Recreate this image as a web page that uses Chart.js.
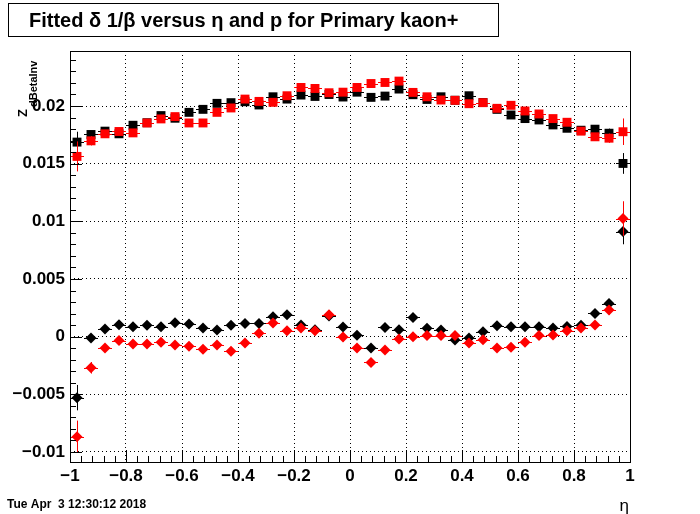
<!DOCTYPE html>
<html>
<head>
<meta charset="utf-8">
<script src="https://cdn.jsdelivr.net/npm/chart.js@4.4.0/dist/chart.umd.min.js"></script>
<style>
  body { margin: 0; background: #fff; }
  canvas { display: block; }
</style>
</head>
<body>
<canvas id="fitChart" width="700" height="514"></canvas>
<script>
// eta bin centres (40 bins of 0.05)
const etaBins = [-0.975, -0.925, -0.875, -0.825, -0.775, -0.725, -0.675, -0.625, -0.575, -0.525,
  -0.475, -0.425, -0.375, -0.325, -0.275, -0.225, -0.175, -0.125, -0.075, -0.025,
  0.025, 0.075, 0.125, 0.175, 0.225, 0.275, 0.325, 0.375, 0.425, 0.475,
  0.525, 0.575, 0.625, 0.675, 0.725, 0.775, 0.825, 0.875, 0.925, 0.975];
const binHalfWidth = 0.025;

// sigma (squares) and mean (diamonds), black and red
const blackSigma = [0.01687, 0.01753, 0.01782, 0.01759, 0.01833, 0.01855, 0.01917, 0.01894, 0.01945, 0.01971,
  0.02023, 0.02029, 0.02037, 0.02009, 0.02080, 0.02060, 0.02095, 0.02083, 0.02100, 0.02078,
  0.02120, 0.02075, 0.02086, 0.02147, 0.02098, 0.02057, 0.02080, 0.02050, 0.02089, 0.02030,
  0.01971, 0.01922, 0.01891, 0.01879, 0.01836, 0.01807, 0.01790, 0.01799, 0.01764, 0.01502];
const redSigma = [0.01563, 0.01698, 0.01759, 0.01779, 0.01767, 0.01853, 0.01888, 0.01908, 0.01853, 0.01853,
  0.01945, 0.01983, 0.02060, 0.02040, 0.02032, 0.02089, 0.02161, 0.02152, 0.02115, 0.02120,
  0.02161, 0.02195, 0.02204, 0.02216, 0.02118, 0.02080, 0.02052, 0.02049, 0.02020, 0.02029,
  0.01980, 0.02006, 0.01957, 0.01931, 0.01891, 0.01859, 0.01782, 0.01733, 0.01721, 0.01777];
const blackMean = [-0.00529, -0.00011, 0.00066, 0.00103, 0.00086, 0.00098, 0.00086, 0.00121, 0.00109, 0.00075,
  0.00057, 0.00098, 0.00115, 0.00115, 0.00172, 0.00190, 0.00101, 0.00060, 0.00180, 0.00083,
  0.00012, -0.00098, 0.00080, 0.00060, 0.00167, 0.00072, 0.00057, -0.00029, -0.00011, 0.00043,
  0.00095, 0.00086, 0.00086, 0.00086, 0.00075, 0.00089, 0.00098, 0.00201, 0.00287, 0.00911];
const redMean = [-0.00868, -0.00270, -0.00098, -0.00034, -0.00063, -0.00063, -0.00049, -0.00072, -0.00083, -0.00109,
  -0.00072, -0.00126, -0.00055, 0.00029, 0.00118, 0.00052, 0.00075, 0.00052, 0.00190, -0.00003,
  -0.00098, -0.00224, -0.00115, -0.00020, 0.00000, 0.00009, 0.00009, 0.00009, -0.00055, -0.00026,
  -0.00098, -0.00092, -0.00049, 0.00009, 0.00014, 0.00052, 0.00075, 0.00101, 0.00230, 0.01024];

// vertical errors
const blackSigmaErr = [0.0009, 0.0003, 0.0003, 0.0003, 0.0003, 0.0003, 0.0003, 0.0003, 0.0003, 0.0003,
  0.0003, 0.0003, 0.0003, 0.0003, 0.0003, 0.0003, 0.0003, 0.0003, 0.0003, 0.0003,
  0.0003, 0.0003, 0.0003, 0.0003, 0.0003, 0.0003, 0.0003, 0.0003, 0.0003, 0.0003,
  0.0003, 0.0003, 0.0003, 0.0003, 0.0003, 0.0003, 0.0003, 0.0003, 0.0004, 0.0009];
const redSigmaErr = [0.0013, 0.0004, 0.0003, 0.0003, 0.0003, 0.0003, 0.0003, 0.0003, 0.0003, 0.0003,
  0.0003, 0.0003, 0.0003, 0.0003, 0.0003, 0.0003, 0.0003, 0.0003, 0.0003, 0.0003,
  0.0003, 0.0003, 0.0003, 0.0003, 0.0003, 0.0003, 0.0003, 0.0003, 0.0003, 0.0003,
  0.0003, 0.0003, 0.0003, 0.0003, 0.0003, 0.0003, 0.0003, 0.0003, 0.0004, 0.00115];
const blackMeanErr = [0.0011, 0.0003, 0.0003, 0.0003, 0.0003, 0.0003, 0.0003, 0.0003, 0.0003, 0.0003,
  0.0003, 0.0003, 0.0003, 0.0003, 0.0003, 0.0003, 0.0003, 0.0003, 0.0003, 0.0003,
  0.0003, 0.0003, 0.0003, 0.0003, 0.0003, 0.0003, 0.0003, 0.0003, 0.0003, 0.0003,
  0.0003, 0.0003, 0.0003, 0.0003, 0.0003, 0.0003, 0.0003, 0.0003, 0.0004, 0.0011];
const redMeanErr = [0.0014, 0.0005, 0.0003, 0.0003, 0.0003, 0.0003, 0.0003, 0.0003, 0.0003, 0.0003,
  0.0003, 0.0003, 0.0003, 0.0003, 0.0003, 0.0003, 0.0003, 0.0004, 0.0004, 0.0004,
  0.0003, 0.0003, 0.0003, 0.0003, 0.0003, 0.0003, 0.0003, 0.0003, 0.0003, 0.0003,
  0.0003, 0.0003, 0.0003, 0.0003, 0.0003, 0.0003, 0.0003, 0.0003, 0.0004, 0.0015];

// axis ticks
const xTicks = [-1, -0.8, -0.6, -0.4, -0.2, 0, 0.2, 0.4, 0.6, 0.8, 1];
const xTickLabels = ['\u22121', '\u22120.8', '\u22120.6', '\u22120.4', '\u22120.2', '0', '0.2', '0.4', '0.6', '0.8', '1'];
const yTicks = [-0.01, -0.005, 0, 0.005, 0.01, 0.015, 0.02];
const yTickLabels = ['\u22120.01', '\u22120.005', '0', '0.005', '0.01', '0.015', '0.02'];

const titleText = 'Fitted \u03b4 1/\u03b2 versus \u03b7 and p for Primary kaon+';
const dateText = 'Tue Apr  3 12:30:12 2018';
const FONT = '"Liberation Sans", Arial, Helvetica, sans-serif';

function points(vals) {
  return etaBins.map((x, i) => ({ x: x, y: vals[i] }));
}

// error bars drawn just before each dataset's markers
const errorBars = {
  id: 'errorBars',
  beforeDatasetDraw(chart, args) {
    const ds = chart.data.datasets[args.index];
    const xs = chart.scales.x, ys = chart.scales.y;
    const ctx = chart.ctx;
    ctx.save();
    ctx.strokeStyle = ds.borderColor;
    ctx.lineWidth = 1;
    ds.data.forEach((p, i) => {
      const px = Math.round(xs.getPixelForValue(p.x)) + 0.5;
      const py = Math.round(ys.getPixelForValue(p.y)) + 0.5;
      const x1 = xs.getPixelForValue(p.x - binHalfWidth);
      const x2 = xs.getPixelForValue(p.x + binHalfWidth);
      const y1 = ys.getPixelForValue(p.y - ds.errors[i]);
      const y2 = ys.getPixelForValue(p.y + ds.errors[i]);
      ctx.beginPath();
      ctx.moveTo(x1, py); ctx.lineTo(x2, py);
      ctx.moveTo(px, y1); ctx.lineTo(px, y2);
      ctx.stroke();
    });
    ctx.restore();
  }
};

// ROOT style frame, inward ticks and the texts round the pad
const rootPad = {
  id: 'rootPad',
  beforeDraw(chart) {
    const ctx = chart.ctx;
    ctx.save();
    ctx.fillStyle = '#fff';
    ctx.fillRect(0, 0, chart.width, chart.height);
    ctx.restore();
  },
  afterDraw(chart) {
    const ctx = chart.ctx;
    const a = chart.chartArea;
    const xs = chart.scales.x, ys = chart.scales.y;
    ctx.save();
    ctx.strokeStyle = '#000';
    ctx.lineWidth = 1;
    ctx.strokeRect(a.left + 0.5, a.top + 0.5, a.right - a.left, a.bottom - a.top);

    ctx.beginPath();
    // y ticks
    for (let k = -10; k <= 24; k++) {
      const v = k / 1000;
      const py = Math.round(ys.getPixelForValue(v)) + 0.5;
      if (py < a.top || py > a.bottom) continue;
      const len = (k % 5 === 0) ? 12 : 6;
      ctx.moveTo(a.left, py); ctx.lineTo(a.left + len, py);
    }
    // x ticks
    for (let k = -25; k <= 25; k++) {
      const v = k * 0.04;
      const px = Math.round(xs.getPixelForValue(v)) + 0.5;
      const len = (k % 5 === 0) ? 12 : 6;
      ctx.moveTo(px, a.bottom); ctx.lineTo(px, a.bottom - len);
    }
    ctx.stroke();

    // title box
    ctx.fillStyle = '#fff';
    ctx.fillRect(8, 3, 490, 33);
    ctx.strokeRect(8.5, 3.5, 490, 33);
    ctx.fillStyle = '#000';
    ctx.font = 'bold 20px ' + FONT;
    ctx.textBaseline = 'alphabetic';
    ctx.textAlign = 'left';
    ctx.fillText(titleText, 29, 27);

    // y axis title Z_dBetaInv
    ctx.save();
    ctx.translate(27, 117);
    ctx.rotate(-Math.PI / 2);
    ctx.font = 'bold 13px ' + FONT;
    ctx.fillText('Z', 0, 0);
    ctx.restore();
    ctx.save();
    ctx.translate(37, 107);
    ctx.rotate(-Math.PI / 2);
    ctx.font = 'bold 11px ' + FONT;
    ctx.fillText('dBetaInv', 0, 0);
    ctx.restore();

    // x axis title
    ctx.font = '17px ' + FONT;
    ctx.textAlign = 'right';
    ctx.fillText('\u03b7', 629, 511);

    // date stamp
    ctx.font = 'bold 12px ' + FONT;
    ctx.textAlign = 'left';
    ctx.fillText(dateText, 7, 508);
    ctx.restore();
  }
};

const gridOpts = { color: '#000', lineWidth: 1, drawTicks: false };
const borderOpts = { display: false, dash: [1, 3] };
const tickFont = { family: FONT, size: 17, weight: 'bold' };

new Chart(document.getElementById('fitChart'), {
  type: 'scatter',
  data: {
    datasets: [
      { label: 'sigma red', data: points(redSigma), errors: redSigmaErr,
        backgroundColor: '#ff0000', borderColor: '#ff0000', pointStyle: 'rect', pointRadius: 6.3, borderWidth: 0 },
      { label: 'sigma black', data: points(blackSigma), errors: blackSigmaErr,
        backgroundColor: '#000000', borderColor: '#000000', pointStyle: 'rect', pointRadius: 6.3, borderWidth: 0 },
      { label: 'mean red', data: points(redMean), errors: redMeanErr,
        backgroundColor: '#ff0000', borderColor: '#ff0000', pointStyle: 'rectRot', pointRadius: 5.5, borderWidth: 0 },
      { label: 'mean black', data: points(blackMean), errors: blackMeanErr,
        backgroundColor: '#000000', borderColor: '#000000', pointStyle: 'rectRot', pointRadius: 5.5, borderWidth: 0 }
    ]
  },
  options: {
    responsive: false,
    animation: false,
    devicePixelRatio: 1,
    layout: { padding: { top: 51, right: 70, left: 0, bottom: 0 } },
    plugins: {
      legend: { display: false },
      tooltip: { enabled: false }
    },
    elements: { point: { hoverRadius: 5 } },
    scales: {
      x: {
        type: 'linear', min: -1, max: 1,
        afterBuildTicks: s => { s.ticks = xTicks.map(v => ({ value: v })); },
        afterFit: s => { s.height = 52; },
        ticks: { callback: (v, i) => xTickLabels[i], font: tickFont, color: '#000', padding: 4, maxRotation: 0, autoSkip: false },
        grid: gridOpts,
        border: borderOpts
      },
      y: {
        type: 'linear', min: -0.01087, max: 0.02477,
        afterBuildTicks: s => { s.ticks = yTicks.map(v => ({ value: v })); },
        afterFit: s => { s.width = 70; },
        ticks: { callback: (v, i) => yTickLabels[i], font: tickFont, color: '#000', padding: 5, autoSkip: false },
        grid: gridOpts,
        border: borderOpts
      }
    }
  },
  plugins: [errorBars, rootPad]
});
</script>
</body>
</html>
